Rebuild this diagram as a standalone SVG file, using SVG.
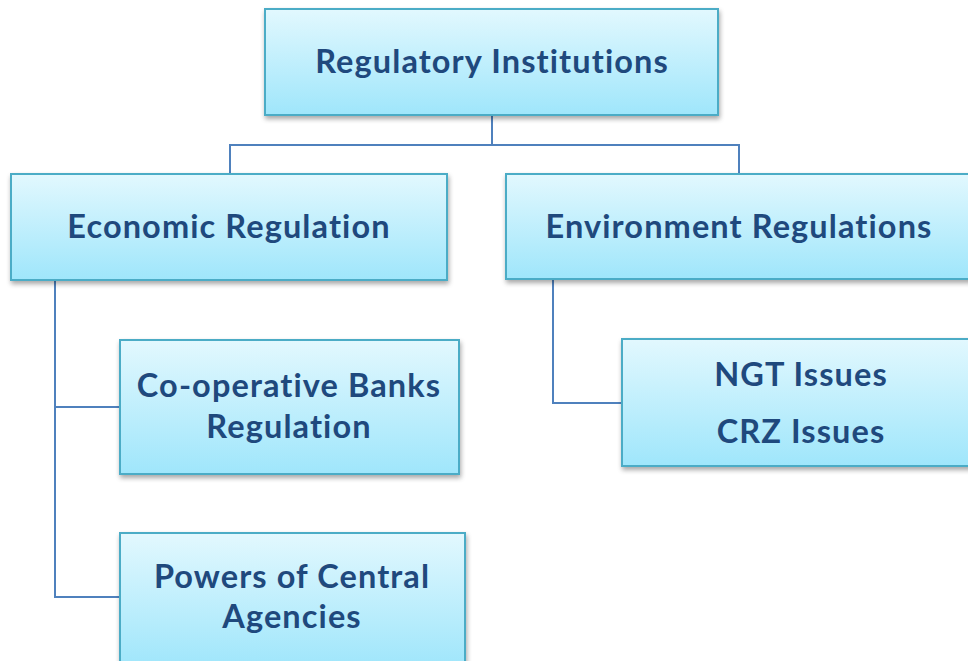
<svg xmlns="http://www.w3.org/2000/svg" width="968" height="661" viewBox="0 0 968 661">
<defs>
<linearGradient id="g" x1="0" y1="0" x2="0" y2="1">
<stop offset="0" stop-color="#E2F8FE"/>
<stop offset="1" stop-color="#9FE6FB"/>
</linearGradient>
<filter id="sh" x="-5%" y="-5%" width="115%" height="125%">
<feGaussianBlur in="SourceAlpha" stdDeviation="2.5"/>
<feOffset dx="1" dy="3" result="b"/>
<feComponentTransfer><feFuncA type="linear" slope="0.35"/></feComponentTransfer>
<feMerge><feMergeNode/><feMergeNode in="SourceGraphic"/></feMerge>
</filter>
</defs>
<style>
.box{fill:url(#g);stroke:#4BACC6;stroke-width:2;filter:url(#sh)}
.t{font-family:Lato,"Open Sans",sans-serif;font-weight:bold;font-size:32.5px;letter-spacing:1.1px;font-variant-ligatures:none;fill:#1F497D;text-anchor:middle}
.c{fill:none;stroke:#4F81BD;stroke-width:2}
</style>
<rect width="968" height="661" fill="#fff"/>
<g id="connectors">
<path class="c" d="M492,115 V145 M230,174 V145 H739 V174"/>
<path class="c" d="M55,280 V597 H120 M55,407 H120"/>
<path class="c" d="M553,279 V403 H622"/>
</g>
<g id="n-root">
<rect class="box" x="265" y="9" width="453" height="106"/>
<text class="t" x="492" y="73">Regulatory Institutions</text>
</g>
<g id="n-econ">
<rect class="box" x="11" y="174" width="436" height="106"/>
<text class="t" x="229" y="238">Economic Regulation</text>
</g>
<g id="n-env">
<rect class="box" x="506" y="174" width="468" height="105"/>
<text class="t" x="739" y="238">Environment Regulations</text>
</g>
<g id="n-coop">
<rect class="box" x="120" y="340" width="339" height="134"/>
<text class="t" x="289" y="397">Co-operative Banks</text>
<text class="t" x="289" y="438">Regulation</text>
</g>
<g id="n-powers">
<rect class="box" x="120" y="533" width="345" height="134"/>
<text class="t" x="292" y="588">Powers of Central</text>
<text class="t" x="292" y="628">Agencies</text>
</g>
<g id="n-ngt">
<rect class="box" x="622" y="339" width="356" height="127"/>
<text class="t" x="801" y="386">NGT Issues</text>
<text class="t" x="801" y="443">CRZ Issues</text>
</g>
</svg>
